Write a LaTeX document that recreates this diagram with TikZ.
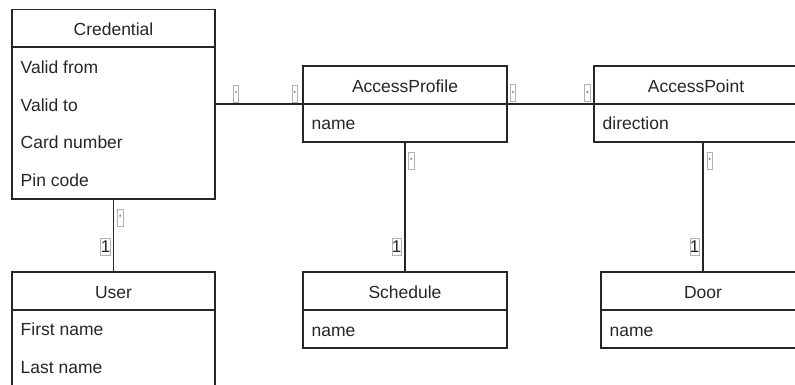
\documentclass[tikz,border=0pt]{standalone}
\usepackage{fontspec}
\setmainfont{Liberation Sans}
\begin{document}
\begin{tikzpicture}[x=1pt,y=-1pt]
\tikzset{
  umlline/.style={draw=black!85, line width=1.3pt},
  classhead/.style={umlline, rectangle, inner sep=0pt, outer sep=0pt, anchor=north west,
    minimum height=37.5, font=\fontsize{17.5}{20}\selectfont, text=black!85,
    text height=15.5, text depth=0pt},
  classbody/.style={umlline, rectangle, inner sep=0pt, outer sep=0pt, anchor=north west},
  attr/.style={anchor=base west, inner sep=0pt,
    font=\fontsize{17.5}{20}\selectfont, text=black!85},
  assoc/.style={umlline},
  mult/.style={draw=black!30, line width=0.6pt, inner sep=0pt,
    minimum height=17, fill=white, text=black!85},
  many/.style={mult, minimum width=5.5, font=\fontsize{6}{6}\selectfont},
  one/.style={mult, minimum width=9, font=\fontsize{17}{17}\selectfont},
}
\useasboundingbox (0,0) rectangle (795,385);
\clip (0,0) rectangle (795,385);

% Credential
\node[classhead, minimum width=203] (credh) at (12,9.5) {Credential};
\node[classbody, minimum width=203, minimum height=152] (credb) at (credh.south west) {};
\node[attr] (c1) at (20.5,74) {Valid from};
\node[attr] (c2) at (20.5,111.5) {Valid to};
\node[attr] (c3) at (20.5,149) {Card number};
\node[attr] (c4) at (20.5,186.5) {Pin code};

% User
\node[classhead, minimum width=203, minimum height=38] (userh) at (12,272) {User};
\node[classbody, minimum width=203, minimum height=90] (userb) at (userh.south west) {};
\node[attr] (u1) at (20.5,335.5) {First name};
\node[attr] (u2) at (20.5,373) {Last name};

% AccessProfile
\node[classhead, minimum width=204, minimum height=38] (proh) at (303,66) {AccessProfile};
\node[classbody, minimum width=204, minimum height=38] (prob) at (proh.south west) {};
\node[attr] (p1) at (311.5,130) {name};

% AccessPoint
\node[classhead, minimum width=204, minimum height=38] (pnth) at (594,66) {AccessPoint};
\node[classbody, minimum width=204, minimum height=38] (pntb) at (pnth.south west) {};
\node[attr] (a1) at (602.5,130) {direction};

% Schedule
\node[classhead, minimum width=204, minimum height=38] (schh) at (303,272) {Schedule};
\node[classbody, minimum width=204, minimum height=38] (schb) at (schh.south west) {};
\node[attr] (s1) at (311.5,336) {name};

% Door
\node[classhead, minimum width=204, minimum height=38] (doorh) at (601,272) {Door};
\node[classbody, minimum width=204, minimum height=38] (doorb) at (doorh.south west) {};
\node[attr] (d1) at (609.5,336) {name};

% associations
\draw[assoc] (proh.south west -| credb.east) -- (proh.south west);
\draw[assoc] (proh.south east) -- (pnth.south west);
\draw[assoc] (credb.south) -- (userh.north);
\draw[assoc] (prob.south) -- (schh.north);
\draw[assoc] (pntb.south -| doorh.north) -- (doorh.north);

% multiplicities
\node[many] (m1) at (236,93.7) {*};
\node[many] (m2) at (294.7,93.7) {*};
\node[many] (m3) at (513,93.3) {*};
\node[many] (m4) at (587.5,93.3) {*};
\node[many] (m5) at (120.3,217.5) {*};
\node[one]  (m6) at (105.5,246.8) {1};
\node[many] (m7) at (411.3,160.5) {*};
\node[one]  (m8) at (396.7,247) {1};
\node[many] (m9) at (709.8,160.5) {*};
\node[one]  (m10) at (694.7,247) {1};
\end{tikzpicture}
\end{document}
